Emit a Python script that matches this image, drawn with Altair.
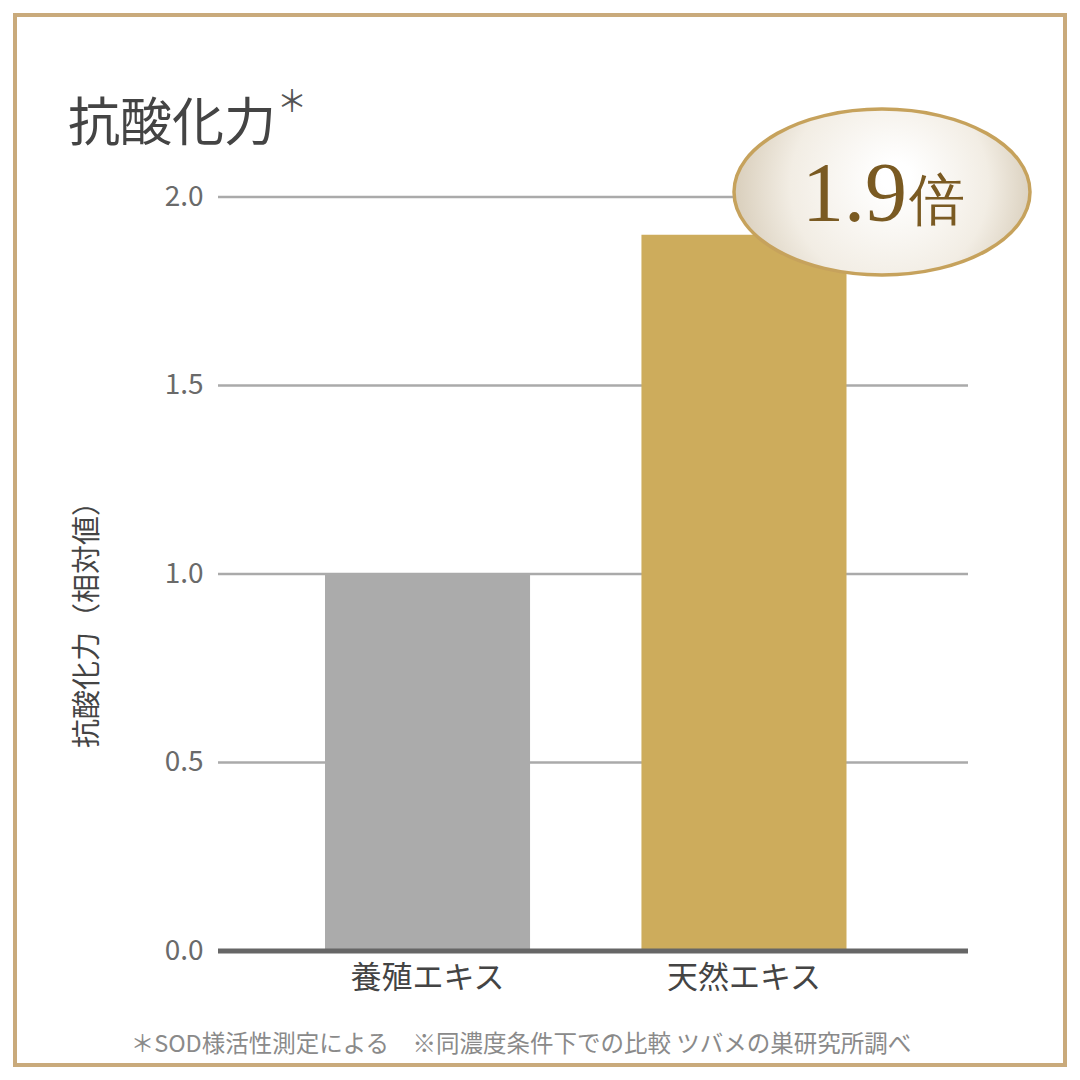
import altair as alt
import pandas as pd

categories = ["養殖エキス", "天然エキス"]
values = [1.0, 1.9]
bar_colors = ["#ababab", "#cdac5c"]
y_ticks = [0.0, 0.5, 1.0, 1.5, 2.0]
title_text = "抗酸化力"
y_title = "抗酸化力（相対値）"
badge_number = "1.9"
badge_unit = "倍"
footnote = "＊SOD様活性測定による　※同濃度条件下での比較 ツバメの巣研究所調べ"

FONT = "Noto Sans CJK JP"
df = pd.DataFrame({"cat": categories, "val": values, "color": bar_colors})
grid_df = pd.DataFrame({"tick": y_ticks[1:]})
one = alt.Data(values=[{"a": 1}])

W, H = 750, 754

yscale = alt.Scale(domain=[0, 2])

grid = alt.Chart(grid_df).mark_rule(color="#aaaaaa", strokeWidth=2.5).encode(
    y=alt.Y("tick:Q", scale=yscale), x=alt.value(0), x2=alt.value(W)
)

bars = alt.Chart(df).mark_bar().encode(
    x=alt.X("cat:N", sort=categories, title=None,
            scale=alt.Scale(range=[107, 628.5], paddingInner=0.352, paddingOuter=0),
            axis=alt.Axis(labelAngle=0, labelFontSize=31, labelColor="#444444",
                          labelFont=FONT, labelPadding=12, domain=False, ticks=False, grid=False)),
    y=alt.Y("val:Q", scale=yscale,
            axis=alt.Axis(values=y_ticks, format=".1f", labelFontSize=28, labelColor="#6a6a6a",
                          labelFont=FONT, labelPadding=15, domain=False, ticks=False,
                          grid=False,
                          title=y_title, titleFont=FONT, titleFontSize=29, titleFontWeight="normal",
                          titleColor="#444444", titleX=-131, titleY=420, titleAngle=270,
                          titleAlign="center", titleBaseline="middle")),
    color=alt.Color("color:N", scale=None),
)

baseline = alt.Chart(one).mark_rule(color="#666666", strokeWidth=5).encode(
    y=alt.datum(0), x=alt.value(0), x2=alt.value(W)
)

title = alt.Chart(one).mark_text(text=title_text, font=FONT, fontSize=52, color="#444444",
                                 align="left", baseline="alphabetic").encode(
    x=alt.value(-150), y=alt.value(-56))
star = alt.Chart(one).mark_text(text="＊", font=FONT, fontSize=30, color="#555555",
                                align="left", baseline="alphabetic").encode(
    x=alt.value(59), y=alt.value(-85))

badge = alt.Chart(one).mark_point(
    shape="M -1 0 A 1 0.56 0 1 1 1 0 A 1 0.56 0 1 1 -1 0 Z",
    filled=True, opacity=1, stroke="#c6a25c", strokeWidth=3.5,
    fill=alt.Gradient(gradient="radial", x1=0.55, y1=0.45, r1=0.05, x2=0.5, y2=0.5, r2=0.62,
                      stops=[alt.GradientStop(color="#ffffff", offset=0),
                             alt.GradientStop(color="#f2ede4", offset=0.5),
                             alt.GradientStop(color="#c9bba2", offset=1)]),
).encode(x=alt.value(664), y=alt.value(-5), size=alt.value(296 * 296))

badge_num = alt.Chart(one).mark_text(text=badge_number, font="Liberation Serif", fontSize=84,
                                     color="#7a5a22", align="right", baseline="alphabetic").encode(
    x=alt.value(689), y=alt.value(24))
badge_unit_t = alt.Chart(one).mark_text(text=badge_unit, font="DejaVu Serif", fontSize=56,
                                        color="#7a5a22", align="left", baseline="alphabetic").encode(
    x=alt.value(691), y=alt.value(22))

note = alt.Chart(one).mark_text(text=footnote, font=FONT, fontSize=23.5, color="#8a8a8a",
                                align="center", baseline="middle").encode(
    x=alt.value(303), y=alt.value(848))

frame = alt.Chart(one).mark_rect(fill="transparent", stroke="#c9aa7b", strokeWidth=4).encode(
    x=alt.value(-203), x2=alt.value(847), y=alt.value(-182), y2=alt.value(868))

chart = alt.layer(grid, bars, baseline, title, star, badge, badge_num, badge_unit_t, note, frame).properties(
    width=W, height=H,
    padding={"left": 210, "top": 189, "right": 104, "bottom": 121},
    autosize=alt.AutoSizeParams(type="none"),
    background="#ffffff",
).configure_view(stroke=None)

chart.save("out.html", embed_options={"renderer": "svg", "actions": False})
